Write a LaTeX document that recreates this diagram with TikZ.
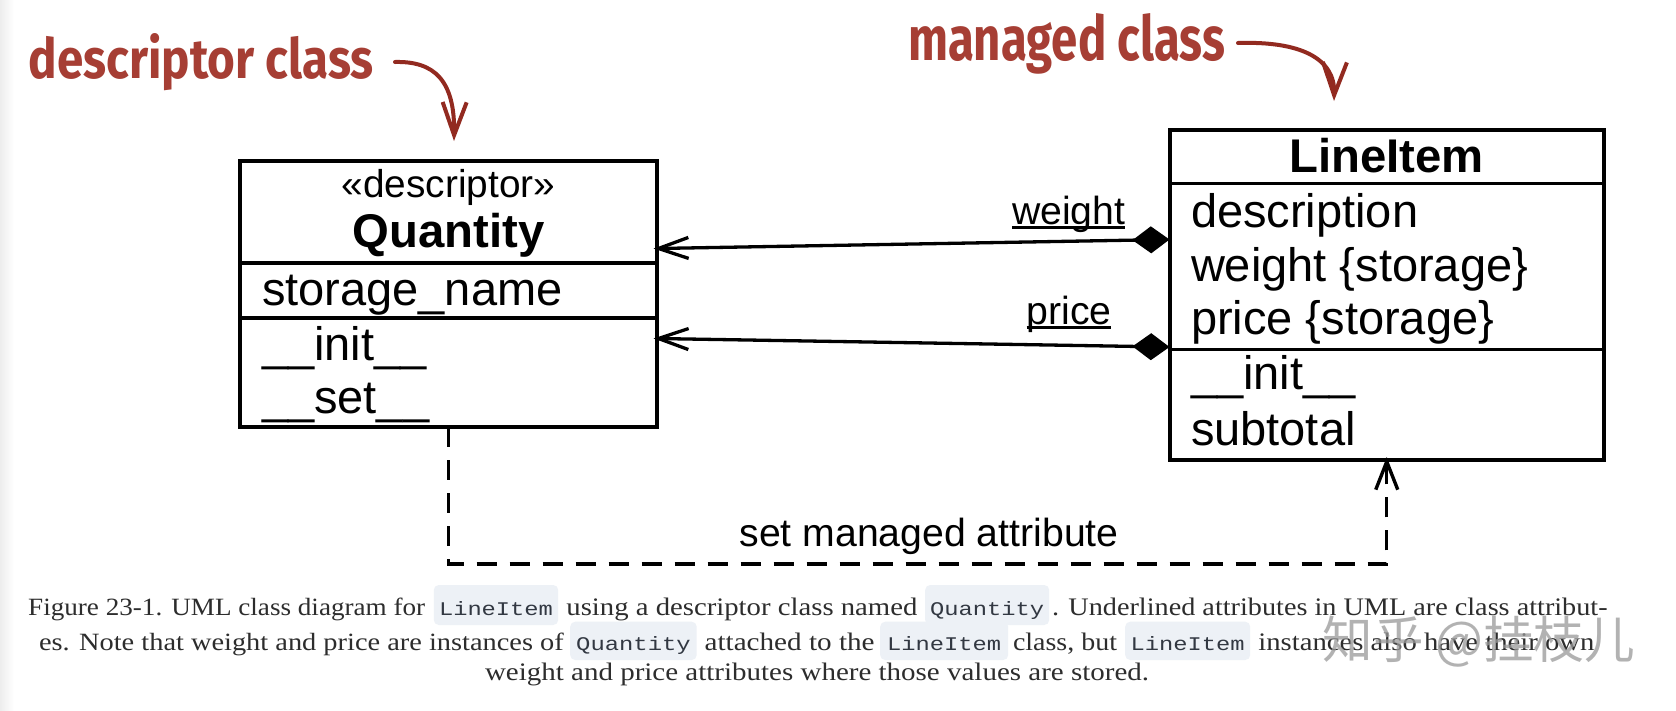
\documentclass[tikz,border=0pt]{standalone}
\usepackage{fontspec}
\setmainfont{Liberation Sans}
\newfontfamily\capfont{Liberation Serif}
\newfontfamily\codefont{Liberation Mono}
\newfontfamily\annfont{Fira Sans}
\newfontfamily\cjkfont{Noto Sans CJK SC}
\usetikzlibrary{arrows.meta}
\definecolor{annred}{RGB}{166,62,52}
\definecolor{annarr}{RGB}{146,42,32}
\definecolor{captext}{RGB}{45,45,45}
\definecolor{codebg}{RGB}{237,241,246}
\definecolor{codetext}{RGB}{50,56,66}
\newcommand\umlbig{\fontsize{47}{52}\selectfont}
\newcommand\umlbold{\fontsize{47.3}{52}\selectfont\bfseries}
\newcommand\umlsmall{\fontsize{39.2}{44}\selectfont}
\newcommand\capseg[2]{\resizebox{#1}{17.5pt}{\capfont\fontsize{24}{28}\selectfont #2}}
\newcommand\codeseg[2]{\resizebox{#1}{14pt}{\codefont\fontsize{22}{26}\selectfont #2}}
\tikzset{
  umlbox/.style={draw=black, line width=4pt, outer sep=0pt, inner sep=0pt, anchor=north west},
  umlline/.style={line width=3.6pt},
  txt/.style={inner sep=0pt, outer sep=0pt},
  assoc/.style={line width=3.3pt, {Diamond[length=37pt,width=27pt]}-{Straight Barb[length=30pt,width=21pt]}, shorten >=-3.5pt},
  dep/.style={line width=3.4pt, dash pattern=on 20pt off 13pt, -{Straight Barb[length=28pt,width=22pt]}, shorten >=-2.5pt},
  annarrow/.style={draw=annarr, line width=4pt, line cap=round, -{Straight Barb[length=33pt,width=24pt]}},
  codebox/.style={fill=codebg, rounded corners=5pt, inner ysep=0pt, text=codetext, anchor=base west},
  captxt/.style={txt, text=captext, anchor=base west},
}
\begin{document}
\begin{tikzpicture}[x=1pt,y=-1pt]
\useasboundingbox (0,0) rectangle (1676,710);
\fill[white] (0,0) rectangle (1676,710);
\shade[left color=black!7, right color=white] (0,0) rectangle (14,710);

% annotations
\node[txt, anchor=base west, text=annred] (descann) at (28.6,78) {\resizebox{345pt}{45pt}{\annfont\bfseries descriptor class}};
\node[txt, anchor=base west, text=annred] (manann) at (908,60) {\resizebox{317pt}{47pt}{\annfont\bfseries managed class}};
\coordinate (a1s) at (395,62);
\coordinate (a1e) at (454,141);
\coordinate (a2s) at (1238,43);
\coordinate (a2e) at (1334,101);
\draw[annarrow] (a1s) .. controls (434,61) and (455,80) .. (a1e);
\draw[annarrow] (a2s) .. controls (1300,41) and (1335,58) .. (a2e);

% Quantity class
\node[umlbox, minimum width=417pt, minimum height=266pt] (Q) at (240,161) {};
\draw[umlline] (Q.west |- 0,263) -- (Q.east |- 0,263);
\draw[umlline] (Q.west |- 0,318) -- (Q.east |- 0,318);
\node[txt, anchor=base] (qst) at (448.5,197) {\fontsize{38.8}{44}\selectfont «descriptor»};
\node[txt, anchor=base] (qname) at (448.5,247) {\umlbold Quantity};
\node[txt, anchor=base west] (qa1) at (262,305) {\umlbig storage\_name};
\node[txt, anchor=base west] (qm1) at (262,360) {\umlbig \_\_init\_\_};
\node[txt, anchor=base west] (qm2) at (262,413) {\umlbig \_\_set\_\_};

% LineItem class
\node[umlbox, minimum width=434.5pt, minimum height=329.5pt] (L) at (1169.5,130) {};
\draw[umlline] (L.west |- 0,183.5) -- (L.east |- 0,183.5);
\draw[umlline] (L.west |- 0,349.5) -- (L.east |- 0,349.5);
\node[txt, anchor=base] (lname) at (1386.75,172) {\umlbold LineItem};
\node[txt, anchor=base west] (la1) at (1191,227) {\umlbig description};
\node[txt, anchor=base west] (la2) at (1191,281) {\umlbig weight \{storage\}};
\node[txt, anchor=base west] (la3) at (1191,334) {\umlbig price \{storage\}};
\node[txt, anchor=base west] (lm1) at (1191,389) {\umlbig \_\_init\_\_};
\node[txt, anchor=base west] (lm2) at (1191,445) {\umlbig subtotal};

% associations
\draw[assoc] (L.west |- 0,239.5) -- (Q.east |- 0,248.5);
\draw[assoc] (L.west |- 0,347) -- (Q.east |- 0,338.5);
\node[txt, anchor=base west] (wl) at (1012,224) {\umlsmall weight};
\draw[line width=2.4pt] ([yshift=-3.5pt]wl.base west) -- ([yshift=-3.5pt]wl.base east);
\node[txt, anchor=base west] (pl) at (1026.5,324) {\umlsmall price};
\draw[line width=2.4pt] ([yshift=-3.5pt]pl.base west) -- ([yshift=-3.5pt]pl.base east);

% dependency
\draw[dep] (Q.south) -- (Q.south |- 0,564) -| (L.south);
\node[txt, anchor=base] (dl) at (929,546) {\umlsmall set managed attribute};

% caption
\node[captxt] (c1a) at (28.2,615) {\capseg{397pt}{Figure 23-1. UML class diagram for}};
\node[codebox, inner xsep=5.2pt, text height=30pt, text depth=10pt] (k1) at (433.6,615) {\codeseg{114pt}{LineItem}};
\node[captxt] (c1b) at (566.4,615) {\capseg{351pt}{using a descriptor class named}};
\node[codebox, inner xsep=5pt, text height=30pt, text depth=10pt] (k2) at (925,615) {\codeseg{114pt}{Quantity}};
\node[captxt] (c1c) at (1052,615) {\capseg{555.6pt}{. Underlined attributes in UML are class attribut-}};

\node[captxt] (c2a) at (39,650) {\capseg{524.7pt}{es. Note that weight and price are instances of}};
\node[codebox, inner xsep=6pt, text height=28.3pt, text depth=10pt] (k3) at (570,650) {\codeseg{114.5pt}{Quantity}};
\node[captxt] (c2b) at (704.6,650) {\capseg{170pt}{attached to the}};
\node[codebox, inner xsep=7pt, text height=28.3pt, text depth=10pt] (k4) at (880,650) {\codeseg{114pt}{LineItem}};
\node[captxt] (c2c) at (1013,650) {\capseg{104pt}{class, but}};
\node[codebox, inner xsep=5.5pt, text height=28.3pt, text depth=10pt] (k5) at (1125,650) {\codeseg{114pt}{LineItem}};
\node[captxt] (c2d) at (1258.4,650) {\capseg{336pt}{instances also have their own}};

\node[captxt] (c3) at (485,680) {\capseg{664pt}{weight and price attributes where those values are stored.}};

% watermark
\node[txt, text=black!40, opacity=0.75] (wm) at (1479,642) {\resizebox{312pt}{!}{\cjkfont 知乎 @挂枝儿}};
\end{tikzpicture}
\end{document}
